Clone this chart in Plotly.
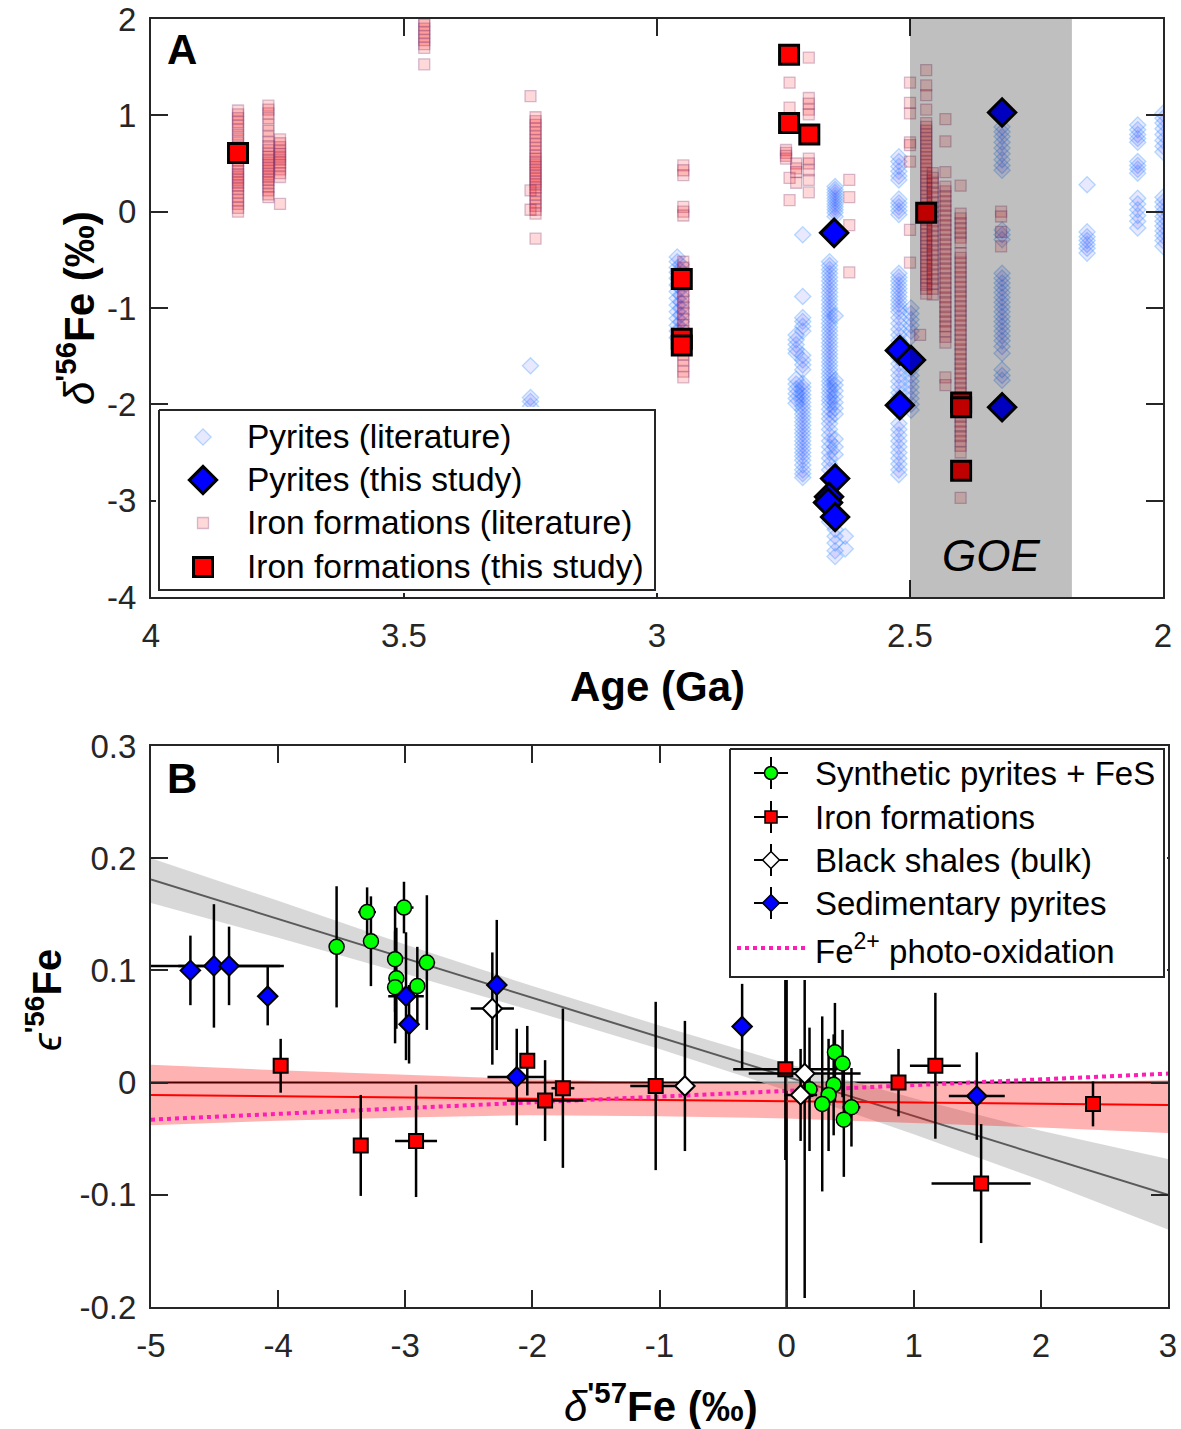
import plotly.graph_objects as go

W, H = 1181, 1429
FONT = "Arial, 'Liberation Sans', Helvetica, sans-serif"
AX = '#262626'

# ================= Panel A data =================
# Pyrites (literature): cluster ages (Ga) and delta'56Fe values (permil)
pyr_lit_ages = [3.25, 2.960, 2.952, 2.725, 2.712, 2.648, 2.659, 2.628, 2.522, 2.498, 2.318, 2.150, 2.050, 2.000]
pyr_lit_vals = [
    [-1.60, -1.93, -1.97, -2.02],
    [-0.47, -0.52, -0.58, -0.63, -0.69, -0.76, -0.83, -0.90, -0.97, -1.04, -1.11, -1.18, -1.24, -1.31],
    [-0.55, -0.61, -0.67, -0.73, -0.80, -0.87, -0.94, -1.00, -1.07, -1.14, -1.21, -1.28, -1.36],
    [-1.28, -1.33, -1.38, -1.43, -1.47, -1.74, -1.79, -1.84, -1.89, -1.94, -1.99],
    [-0.24, -0.88, -1.10, -1.14, -1.19, -1.24, -1.49, -1.54, -1.59, -1.64, -1.78, -1.82, -1.86, -1.90, -1.94,
     -1.98, -2.02, -2.06, -2.10, -2.14, -2.18, -2.22, -2.26, -2.30, -2.34, -2.38, -2.42, -2.46, -2.50, -2.54,
     -2.58, -2.63, -2.68, -2.72, -2.76],
    [0.26, 0.23, 0.20, 0.17, 0.14, 0.11, 0.08, 0.05, 0.02, -0.01, -0.05, -1.08, -1.75, -1.80, -1.86, -1.92,
     -1.98, -2.04, -2.10, -2.36, -2.44, -2.52, -3.30, -3.37, -3.44, -3.52, -3.58],
    [-0.52, -0.56, -0.60, -0.64, -0.68, -0.72, -0.76, -0.80, -0.84, -0.88, -0.92, -0.96, -1.00, -1.04, -1.08,
     -1.12, -1.16, -1.20, -1.24, -1.28, -1.32, -1.36, -1.40, -1.44, -1.48, -1.52, -1.56, -1.60, -1.64, -1.68,
     -1.72, -1.76, -1.80, -1.84, -1.88, -1.92, -1.96, -2.00, -2.05, -2.10, -2.15, -2.20, -2.26, -2.32, -2.38,
     -2.44, -2.50, -2.56, -2.62, -2.68, -2.90, -3.05, -3.22],
    [-3.37, -3.50],
    [0.57, 0.52, 0.47, 0.42, 0.37, 0.33, 0.13, 0.09, 0.05, 0.01, -0.03, -0.64, -0.68, -0.72, -0.76, -0.80,
     -0.84, -0.88, -0.92, -0.96, -1.00, -1.04, -1.10, -1.16, -1.22, -1.28, -1.34, -1.40, -1.46, -1.52, -1.58,
     -1.64, -1.70, -1.76, -1.82, -1.88, -1.93, -2.20, -2.26, -2.32, -2.38, -2.44, -2.50, -2.56, -2.62, -2.68, -2.73],
    [-1.00, -1.06, -1.12, -1.18, -1.24, -1.30, -1.58, -1.64, -1.70, -1.76, -1.82, -1.88, -1.94, -2.00, -2.06],
    [0.88, 0.83, 0.78, 0.72, 0.66, 0.60, 0.54, 0.48, 0.43, -0.19, -0.24, -0.29, -0.64, -0.69, -0.74, -0.79,
     -0.84, -0.89, -0.94, -0.99, -1.04, -1.09, -1.14, -1.19, -1.24, -1.29, -1.34, -1.40, -1.47, -1.64, -1.70, -1.75],
    [0.28, -0.21, -0.26, -0.30, -0.34, -0.38, -0.43],
    [0.90, 0.85, 0.80, 0.76, 0.72, 0.52, 0.48, 0.44, 0.40, 0.14, 0.08, 0.02, -0.04, -0.10, -0.17],
    [1.02, 0.97, 0.92, 0.86, 0.80, 0.74, 0.68, 0.62, 0.15, 0.10, 0.05, 0.00, -0.05, -0.10, -0.15, -0.20,
     -0.25, -0.30, -0.36],
]

# Iron formations (literature)
if_lit_ages = [3.828, 3.768, 3.745, 3.46, 3.24, 3.25, 2.948, 2.745, 2.738, 2.725, 2.70, 2.62, 2.50, 2.48,
               2.468, 2.455, 2.43, 2.40, 2.32]
if_lit_vals = [
    [1.05, 1.01, 0.97, 0.93, 0.89, 0.85, 0.80, 0.76, 0.72, 0.67, 0.62, 0.57, 0.53, 0.49, 0.45, 0.42, 0.39,
     0.36, 0.33, 0.30, 0.27, 0.24, 0.20, 0.16, 0.12, 0.08, 0.04, 0.00],
    [1.10, 1.06, 1.02, 0.97, 0.90, 0.84, 0.78, 0.72, 0.68, 0.64, 0.60, 0.57, 0.54, 0.51, 0.48, 0.45, 0.42,
     0.39, 0.36, 0.33, 0.30, 0.26, 0.22, 0.18, 0.15],
    [0.75, 0.71, 0.67, 0.63, 0.60, 0.57, 0.54, 0.51, 0.48, 0.44, 0.40, 0.36, 0.08],
    [1.98, 1.94, 1.90, 1.86, 1.82, 1.78, 1.74, 1.70, 1.53],
    [0.98, 0.94, 0.90, 0.86, 0.82, 0.78, 0.74, 0.70, 0.66, 0.62, 0.58, 0.55, 0.52, 0.49, 0.46, 0.43, 0.40,
     0.37, 0.34, 0.31, 0.28, 0.25, 0.22, 0.18, 0.14, 0.10, 0.06, 0.02, -0.02, -0.28],
    [1.20, 0.22, 0.02],
    [0.48, 0.43, 0.38, 0.05, 0.00, -0.04, -0.52, -0.58, -0.64, -0.70, -0.76, -0.82, -0.88, -0.94, -1.00,
     -1.06, -1.12, -1.18, -1.24, -1.30, -1.36, -1.42, -1.48, -1.54, -1.60, -1.66, -1.72],
    [0.64, 0.61, 0.58, 0.55],
    [1.34, 1.08, 0.35, 0.12],
    [0.50, 0.45, 0.41, 0.30],
    [1.60, 1.18, 1.12, 1.06, 1.01, 0.55, 0.50, 0.43, 0.33, 0.20],
    [0.33, 0.15, -0.14, -0.63],
    [1.34, 1.13, 1.02, 0.72, 0.69, 0.52, -0.19, -0.53],
    [-1.28],
    [1.47, 1.31, 1.21, 1.06, 0.92, 0.88, 0.84, 0.80, 0.76, 0.72, 0.68, 0.64, 0.60, 0.56, 0.52, 0.48, 0.44,
     0.40, 0.36, 0.32, 0.28, 0.24, 0.20, 0.16, 0.12, 0.08, 0.04, 0.00, -0.04, -0.08, -0.12, -0.16, -0.20,
     -0.24, -0.28, -0.32, -0.36, -0.40, -0.44, -0.48, -0.52, -0.56, -0.60, -0.64, -0.68, -0.72, -0.76,
     -0.80, -0.85],
    [0.40, 0.35, 0.30, 0.25, 0.20, 0.15, 0.10, 0.05, 0.00, -0.05, -0.10, -0.15, -0.20, -0.25, -0.30, -0.35,
     -0.40, -0.45, -0.50, -0.55, -0.60, -0.65, -0.70, -0.75, -0.80, -0.86],
    [0.96, 0.73, 0.41, 0.26, 0.21, 0.16, 0.11, 0.06, 0.01, -0.04, -0.09, -0.14, -0.19, -0.24, -0.29, -0.34,
     -0.39, -0.44, -0.49, -0.54, -0.59, -0.64, -0.69, -0.74, -0.79, -0.84, -0.89, -0.94, -0.99, -1.04,
     -1.09, -1.14, -1.19, -1.24, -1.30, -1.36, -1.72, -1.80],
    [0.27, -0.02, -0.07, -0.12, -0.17, -0.22, -0.27, -0.32, -0.43, -0.48, -0.53, -0.58, -0.63, -0.68, -0.73,
     -0.78, -0.83, -0.88, -0.93, -0.98, -1.03, -1.08, -1.13, -1.18, -1.23, -1.28, -1.33, -1.38, -1.43, -1.48,
     -1.53, -1.58, -1.63, -1.68, -1.73, -1.78, -1.83, -1.88, -1.93, -1.98, -2.03, -2.08, -2.13, -2.18, -2.23,
     -2.28, -2.33, -2.38, -2.43, -2.50, -2.97],
    [0.00, -0.05, -0.21, -0.36],
]

# This study
pyr_this_age = [2.650, 2.648, 2.660, 2.662, 2.648, 2.520, 2.498, 2.520, 2.318, 2.318]
pyr_this_val = [-0.22, -2.77, -2.96, -3.02, -3.17, -1.44, -1.54, -2.01, 1.03, -2.03]
if_this_age = [3.828, 2.951, 2.951, 2.951, 2.739, 2.739, 2.699, 2.468, 2.399, 2.399, 2.399]
if_this_val = [0.61, -0.70, -1.32, -1.39, 1.63, 0.92, 0.80, -0.01, -1.98, -2.03, -2.69]

goe_start, goe_end = 2.5, 2.18

# ================= Panel B data =================
syn_x = [-3.54, -3.30, -3.27, -3.01, -3.08, -3.07, -3.08, -2.905, -2.83, 0.38, 0.44, 0.37, 0.33, 0.28, 0.18, 0.51, 0.45]
syn_y = [0.121, 0.152, 0.126, 0.156, 0.110, 0.093, 0.085, 0.086, 0.107, 0.027, 0.017, -0.002, -0.011, -0.019, -0.006, -0.022, -0.033]
syn_xerr = [0.02, 0.07, 0.02, 0.075, 0.02, 0.02, 0.02, 0.02, 0.065, 0.02, 0.06, 0.02, 0.02, 0.02, 0.02, 0.07, 0.02]
syn_yerr = [0.054, 0.022, 0.040, 0.023, 0.047, 0.045, 0.050, 0.035, 0.060, 0.044, 0.030, 0.045, 0.050, 0.078, 0.055, 0.035, 0.051]

if_x = [-3.98, -3.35, -2.915, -2.04, -1.90, -1.76, -1.03, -0.01, 0.88, 1.17, 1.53, 2.41]
if_y = [0.015, -0.056, -0.052, 0.0195, -0.016, -0.005, -0.003, 0.012, 0.000, 0.015, -0.090, -0.019]
if_xerr = [0.02, 0.02, 0.165, 0.02, 0.30, 0.09, 0.20, 0.41, 0.02, 0.20, 0.39, 0.02]
if_yerr = [0.024, 0.045, 0.050, 0.031, 0.036, 0.071, 0.075, 0.081, 0.030, 0.065, 0.053, 0.020]

bs_x = [-2.315, -0.80, 0.142, 0.11]
bs_y = [0.066, -0.003, 0.008, -0.011]
bs_xerr = [0.17, 0.07, 0.44, 0.13]
bs_yerr = [0.050, 0.058, 0.200, 0.041]

sed_x = [-4.69, -4.505, -4.386, -4.082, -2.994, -2.97, -2.28, -2.123, -0.35, 1.496]
sed_y = [0.100, 0.104, 0.104, 0.077, 0.077, 0.052, 0.087, 0.005, 0.050, -0.012]
sed_xerr = [0.05, 0.55, 0.40, 0.03, 0.14, 0.03, 0.03, 0.23, 0.03, 0.22]
sed_yerr = [0.031, 0.055, 0.035, 0.026, 0.057, 0.035, 0.058, 0.043, 0.038, 0.039]

# regression lines and confidence bands
band_x = [-5, -4, -3, -2, -1, 0, 1, 2, 3]
gray_upper = [0.200, 0.162, 0.123, 0.086, 0.051, 0.017, -0.014, -0.043, -0.068]
gray_lower = [0.160, 0.129, 0.097, 0.064, 0.030, -0.007, -0.046, -0.087, -0.131]
red_upper = [0.016, 0.011, 0.007, 0.003, 0.000, -0.001, -0.001, 0.000, 0.002]
red_lower = [-0.038, -0.034, -0.031, -0.029, -0.030, -0.032, -0.036, -0.040, -0.045]
line_x = [-5, 3]
gray_line_y = [0.181, -0.100]
red_line_y = [-0.011, -0.020]
photo_y = [-0.033, 0.008]

# ================= figure =================
def px_x(p):
    return p / W

def px_y(p):
    return 1 - p / H

def flat(ages, vals):
    xs, ys = [], []
    for a, vs in zip(ages, vals):
        xs += [a] * len(vs)
        ys += list(vs)
    return xs, ys

PYR_LIT = dict(symbol='diamond', size=12.5, color='rgba(0,0,255,0.09)',
               line=dict(color='rgba(30,144,255,0.30)', width=1.3))
IF_LIT = dict(symbol='square', size=11, color='rgba(255,0,0,0.15)',
              line=dict(color='rgba(120,50,110,0.30)', width=1.3))
PYR_THIS = dict(symbol='diamond', size=21, color='#0000ff', line=dict(color='black', width=3))
IF_THIS = dict(symbol='square', size=19, color='#ff0000', line=dict(color='black', width=3))

fig = go.Figure()

# ---- Panel A ----
px_, py_ = flat(pyr_lit_ages, pyr_lit_vals)
fig.add_trace(go.Scatter(x=px_, y=py_, mode='markers', xaxis='x', yaxis='y', marker=PYR_LIT))
ix_, iy_ = flat(if_lit_ages, if_lit_vals)
fig.add_trace(go.Scatter(x=ix_, y=iy_, mode='markers', xaxis='x', yaxis='y', marker=IF_LIT))
fig.add_trace(go.Scatter(x=pyr_this_age, y=pyr_this_val, mode='markers', xaxis='x', yaxis='y', marker=PYR_THIS))
fig.add_trace(go.Scatter(x=if_this_age, y=if_this_val, mode='markers', xaxis='x', yaxis='y', marker=IF_THIS))

# ---- Panel B ----
fig.add_trace(go.Scatter(x=[-5, 3], y=[0, 0], mode='lines', xaxis='x2', yaxis='y2',
                         line=dict(color='black', width=2)))
fig.add_trace(go.Scatter(x=[0, 0], y=[-0.2, 0.3], mode='lines', xaxis='x2', yaxis='y2',
                         line=dict(color='black', width=2.5)))
fig.add_trace(go.Scatter(x=band_x + band_x[::-1], y=gray_upper + gray_lower[::-1], mode='lines',
    fill='toself', fillcolor='rgba(200,200,200,0.7)', line=dict(width=0), xaxis='x2', yaxis='y2'))
fig.add_trace(go.Scatter(x=line_x, y=gray_line_y, mode='lines', xaxis='x2', yaxis='y2',
                         line=dict(color='#5a5a5a', width=2)))
fig.add_trace(go.Scatter(x=band_x + band_x[::-1], y=red_upper + red_lower[::-1], mode='lines',
    fill='toself', fillcolor='rgba(255,0,0,0.3)', line=dict(width=0), xaxis='x2', yaxis='y2'))
fig.add_trace(go.Scatter(x=line_x, y=red_line_y, mode='lines', xaxis='x2', yaxis='y2',
                         line=dict(color='#ff0000', width=2)))
fig.add_trace(go.Scatter(x=line_x, y=photo_y, mode='lines', xaxis='x2', yaxis='y2',
                         line=dict(color='#ff1db5', width=4, dash='dot')))

def eb(arr):
    return dict(type='data', array=arr, color='black', thickness=2.5, width=0)

fig.add_trace(go.Scatter(x=syn_x, y=syn_y, mode='markers', xaxis='x2', yaxis='y2',
    error_x=eb(syn_xerr), error_y=eb(syn_yerr),
    marker=dict(symbol='circle', size=15, color='#00ff00', line=dict(color='black', width=1.5))))
fig.add_trace(go.Scatter(x=if_x, y=if_y, mode='markers', xaxis='x2', yaxis='y2',
    error_x=eb(if_xerr), error_y=eb(if_yerr),
    marker=dict(symbol='square', size=14, color='#ff0000', line=dict(color='black', width=2))))
fig.add_trace(go.Scatter(x=bs_x, y=bs_y, mode='markers', xaxis='x2', yaxis='y2',
    error_x=eb(bs_xerr), error_y=eb(bs_yerr),
    marker=dict(symbol='diamond', size=15, color='white', line=dict(color='black', width=2))))
fig.add_trace(go.Scatter(x=sed_x, y=sed_y, mode='markers', xaxis='x2', yaxis='y2',
    error_x=eb(sed_xerr), error_y=eb(sed_yerr),
    marker=dict(symbol='diamond', size=15, color='#0000ff', line=dict(color='black', width=2))))

# ---- Legend B (custom) ----
LB = dict(left=730, top=749, right=1164, bottom=977)
lbw, lbh = LB['right'] - LB['left'], LB['bottom'] - LB['top']
fig.add_trace(go.Scatter(x=[0, lbw, lbw, 0, 0], y=[0, 0, lbh, lbh, 0], mode='lines', fill='toself',
    fillcolor='white', line=dict(color=AX, width=2), xaxis='x3', yaxis='y3'))
legB_labels = ['Synthetic pyrites + FeS', 'Iron formations', 'Black shales (bulk)', 'Sedimentary pyrites']
legB_sym = ['circle', 'square', 'diamond', 'diamond']
legB_col = ['#00ff00', '#ff0000', 'white', '#0000ff']
legB_size = [13, 12, 13, 13]
legB_y = [24, 68, 111, 154]
for lab, sy, co, sz, yy in zip(legB_labels, legB_sym, legB_col, legB_size, legB_y):
    fig.add_trace(go.Scatter(x=[41], y=[yy], mode='markers', xaxis='x3', yaxis='y3',
        error_x=dict(type='data', array=[17], color='black', thickness=2, width=0),
        error_y=dict(type='data', array=[16], color='black', thickness=2, width=0),
        marker=dict(symbol=sy, size=sz, color=co, line=dict(color='black', width=1.5))))
fig.add_trace(go.Scatter(x=[7, 76], y=[199, 199], mode='lines', xaxis='x3', yaxis='y3',
                         line=dict(color='#ff1db5', width=4, dash='dot')))

# ---- Legend A (custom) ----
LA = dict(left=159, top=410, right=655, bottom=590)
law, lah = LA['right'] - LA['left'], LA['bottom'] - LA['top']
fig.add_trace(go.Scatter(x=[0, law, law, 0, 0], y=[0, 0, lah, lah, 0], mode='lines', fill='toself',
    fillcolor='white', line=dict(color=AX, width=2), xaxis='x4', yaxis='y4'))
legA_labels = ['Pyrites (literature)', 'Pyrites (this study)', 'Iron formations (literature)',
               'Iron formations (this study)']
legA_y = [27, 70, 113, 157]
legA_markers = [PYR_LIT, PYR_THIS, IF_LIT, IF_THIS]
for mk, yy in zip(legA_markers, legA_y):
    fig.add_trace(go.Scatter(x=[44], y=[yy], mode='markers', xaxis='x4', yaxis='y4', marker=mk))

fig.update_traces(hoverinfo='skip')

# ---- axes ----
def main_axis(**kw):
    d = dict(showline=True, linecolor=AX, linewidth=2, mirror='ticks', ticks='inside', ticklen=17,
             tickwidth=2, tickcolor=AX, showgrid=False, zeroline=False, automargin=False,
             tickfont=dict(family=FONT, size=33, color=AX))
    d.update(kw)
    return d

def hidden_axis(**kw):
    d = dict(visible=False, showgrid=False, zeroline=False, fixedrange=True, automargin=False)
    d.update(kw)
    return d

layout = dict(
    width=W, height=H, margin=dict(l=0, r=0, t=0, b=0, pad=0, autoexpand=False), showlegend=False,
    paper_bgcolor='white', plot_bgcolor='white', font=dict(family=FONT, color='black'),
    xaxis=main_axis(domain=[px_x(151), px_x(1163)], range=[4, 2], anchor='y',
                    tickvals=[4, 3.5, 3, 2.5, 2], ticktext=['4', '3.5', '3', '2.5', '2'],
                    ticklabelstandoff=8),
    yaxis=main_axis(domain=[px_y(597), px_y(19)], range=[-4, 2], anchor='x',
                    tickvals=[-4, -3, -2, -1, 0, 1, 2], ticktext=['-4', '-3', '-2', '-1', '0', '1', '2'],
                    ticklabelstandoff=6),
    xaxis2=main_axis(domain=[px_x(151), px_x(1168)], range=[-5, 3], anchor='y2',
                     tickvals=[-5, -4, -3, -2, -1, 0, 1, 2, 3],
                     ticktext=['-5', '-4', '-3', '-2', '-1', '0', '1', '2', '3'], ticklabelstandoff=8),
    yaxis2=main_axis(domain=[px_y(1307), px_y(746)], range=[-0.2, 0.3], anchor='x2',
                     tickvals=[-0.2, -0.1, 0, 0.1, 0.2, 0.3],
                     ticktext=['-0.2', '-0.1', '0', '0.1', '0.2', '0.3'], ticklabelstandoff=6),
    xaxis3=hidden_axis(domain=[px_x(LB['left'] - 3), px_x(LB['right'] + 3)], range=[-3, lbw + 3], anchor='y3'),
    yaxis3=hidden_axis(domain=[px_y(LB['bottom'] + 3), px_y(LB['top'] - 3)], range=[lbh + 3, -3], anchor='x3'),
    xaxis4=hidden_axis(domain=[px_x(LA['left'] - 3), px_x(LA['right'] + 3)], range=[-3, law + 3], anchor='y4'),
    yaxis4=hidden_axis(domain=[px_y(LA['bottom'] + 3), px_y(LA['top'] - 3)], range=[lah + 3, -3], anchor='x4'),
)
fig.update_layout(**layout)

# GOE shading
fig.add_shape(type='rect', xref='x', yref='y', x0=goe_start, x1=goe_end, y0=-4, y1=2,
              fillcolor='rgba(0,0,0,0.25)', line=dict(width=0), layer='above')

ann = []
def text(x, y, s, size, xanchor='center', yanchor='middle', angle=0, xref='paper', yref='paper', color='black'):
    ann.append(dict(x=x, y=y, text=s, xref=xref, yref=yref, showarrow=False, xanchor=xanchor,
                    yanchor=yanchor, textangle=angle, font=dict(family=FONT, size=size, color=color)))

text(px_x(182), px_y(50), '<b>A</b>', 42)
text(px_x(182), px_y(778), '<b>B</b>', 42)
text(2.34, -3.57, '<i>GOE</i>', 44, xref='x', yref='y')
text(px_x(657), px_y(686), '<b>Age (Ga)</b>', 42)
text(px_x(661), px_y(1403), "<i>δ</i><b><sup>'57</sup>Fe (‰)</b>", 42)
text(px_x(76), px_y(308), "<i>δ</i><b><sup>'56</sup>Fe (‰)</b>", 42, angle=-90)
text(px_x(44), px_y(1000), "<i>ϵ</i><b><sup>'56</sup>Fe</b>", 40, angle=-90)

for lab, yy in zip(legA_labels, legA_y):
    text(86, yy, lab, 33.5, xanchor='left', xref='x4', yref='y4')
for lab, yy in zip(legB_labels, legB_y):
    text(83, yy, lab, 33, xanchor='left', xref='x3', yref='y3')
text(83, 200, 'Fe<sup>2+</sup> photo-oxidation', 33, xanchor='left', xref='x3', yref='y3')

fig.update_layout(annotations=ann)
fig.write_html('out.html')
